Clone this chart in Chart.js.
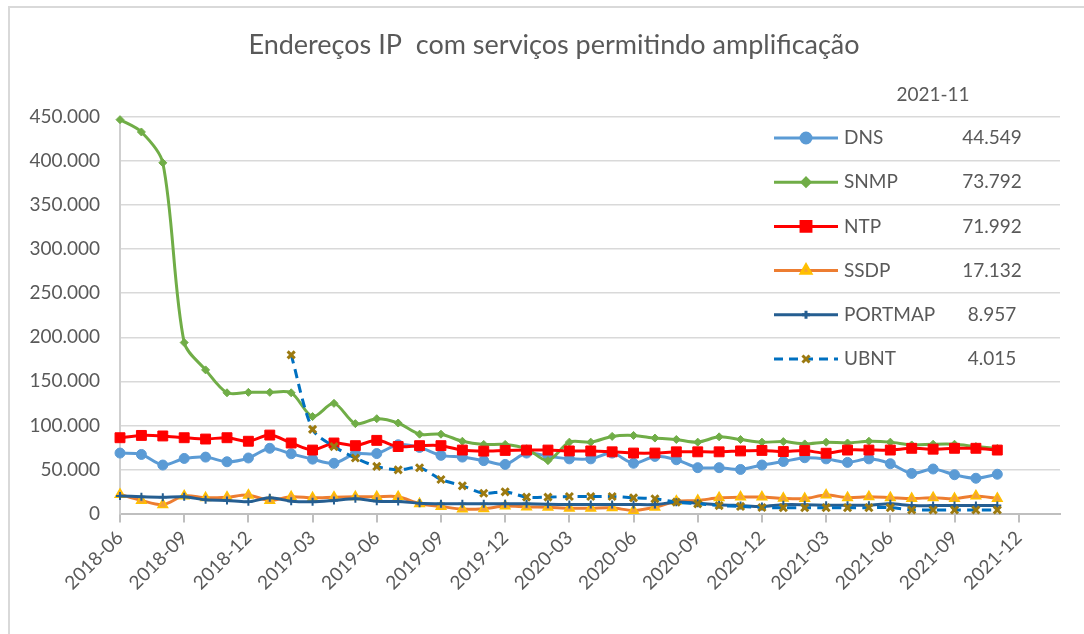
<!DOCTYPE html>
<html>
<head>
<meta charset="utf-8">
<script src="https://cdn.jsdelivr.net/npm/chart.js"></script>
<style>
  html, body { margin: 0; padding: 0; background: #fff; overflow: hidden; }
  #wrap { position: relative; width: 1084px; height: 634px; }
  #frame { position: absolute; left: 8px; top: 6px; width: 1200px; height: 800px;
           border-left: 2px solid #d9d9d9; border-top: 2px solid #d9d9d9; }
  canvas { position: absolute; left: 0; top: 0; }
</style>
</head>
<body>
<div id="wrap">
  <div id="frame"></div>
  <canvas id="chart" width="1084" height="634"></canvas>
</div>
<script>
// meses 2018-06 .. 2021-11
const months = ['2018-06','2018-07','2018-08','2018-09','2018-10','2018-11','2018-12',
  '2019-01','2019-02','2019-03','2019-04','2019-05','2019-06','2019-07','2019-08','2019-09','2019-10','2019-11','2019-12',
  '2020-01','2020-02','2020-03','2020-04','2020-05','2020-06','2020-07','2020-08','2020-09','2020-10','2020-11','2020-12',
  '2021-01','2021-02','2021-03','2021-04','2021-05','2021-06','2021-07','2021-08','2021-09','2021-10','2021-11'];
const tickLabels = ['2018-06','2018-09','2018-12','2019-03','2019-06','2019-09','2019-12',
  '2020-03','2020-06','2020-09','2020-12','2021-03','2021-06','2021-09','2021-12'];
const titleText = 'Endereços IP  com serviços permitindo amplificação';

const dns = [68600, 67000, 55000, 62500, 64000, 58700, 63000, 74000, 67800, 61700, 57000, 67800, 68000, 78000,
  75000, 66000, 64000, 60000, 55700, 68600, 65000, 62000, 62000, 68600, 57000, 64800, 61000, 52000, 52000, 50000,
  55000, 59000, 63300, 62000, 58000, 62000, 56500, 45500, 50500, 44000, 40000, 44549];
const snmp = [447000, 433000, 398000, 194000, 163000, 137000, 137500, 137500, 137000, 110000, 125000, 102000, 107600,
  102700, 90000, 90000, 82000, 78400, 78400, 73500, 60000, 81000, 81000, 87500, 88600, 85600, 84000, 81000, 87000,
  84000, 81000, 81600, 79000, 80900, 80000, 82000, 81000, 77800, 78600, 78600, 76000, 73792];
const ntp = [86000, 88600, 88000, 86000, 84500, 86000, 82000, 89000, 80000, 72000, 80000, 77000, 83000, 76000, 77000,
  77000, 72000, 70800, 71600, 72000, 72000, 71000, 71000, 70000, 68600, 68600, 70000, 70000, 70000, 71000, 71600,
  70300, 71400, 68400, 72000, 72000, 72000, 74000, 73000, 74000, 74000, 71992];
const ssdp = [21600, 14800, 10000, 20000, 17800, 18500, 20800, 14800, 19000, 17800, 18500, 19000, 19000, 19000, 11000,
  8000, 5000, 5500, 8500, 7500, 7000, 6000, 6000, 6400, 3400, 7000, 14000, 14800, 17800, 18600, 18600, 17200, 17000,
  20900, 18000, 19000, 18000, 16900, 18000, 16900, 20000, 17132];
const portmap = [20000, 19000, 18500, 19000, 15500, 14800, 13300, 17800, 14000, 13300, 14800, 16700, 14000, 13600,
  11700, 11000, 11000, 11000, 11000, 11000, 10500, 10200, 10200, 10200, 10200, 10200, 12900, 11700, 10000, 9000, 8000,
  10000, 10000, 9500, 9500, 9500, 11000, 9000, 9000, 9000, 9000, 8957];
const ubnt = [null, null, null, null, null, null, null, null, 180000, 95500, 76000, 63000, 53400, 49600, 51900, 38600,
  31400, 23000, 24600, 18600, 18600, 19300, 19300, 19300, 17800, 16700, 12900, 11000, 9000, 8000, 6800, 6600, 6600,
  6600, 6600, 6600, 6600, 4000, 4000, 4000, 4000, 4015];

const FONT = 'Lato, "Open Sans", sans-serif';
const GREY = '#595959';

function fmt(v) {
  return Math.round(v).toString().replace(/\B(?=(\d{3})+(?!\d))/g, '.');
}
function pts(arr) {
  return arr.map((v, i) => ({ x: i, y: v }));
}

const base = { tension: 0.3, borderWidth: 3, clip: false, spanGaps: false };

const datasets = [
  Object.assign({}, base, { label: 'DNS', data: pts(dns), borderColor: '#5B9BD5', backgroundColor: '#5B9BD5',
    pointStyle: 'circle', pointRadius: 5, pointBorderWidth: 1, order: 6 }),
  Object.assign({}, base, { label: 'SNMP', data: pts(snmp), borderColor: '#70AD47', backgroundColor: '#70AD47',
    pointStyle: 'rectRot', pointRadius: 4, pointBorderWidth: 1, order: 5 }),
  Object.assign({}, base, { label: 'NTP', data: pts(ntp), borderColor: '#FF0000', backgroundColor: '#FF0000',
    pointStyle: 'rect', pointRadius: 7, pointBorderWidth: 1, order: 4 }),
  Object.assign({}, base, { label: 'SSDP', data: pts(ssdp), borderColor: '#ED7D31', backgroundColor: '#F3A13A',
    pointBorderColor: '#FFC000', pointStyle: 'triangle', pointRadius: 5.5, pointBorderWidth: 1.5, order: 3 }),
  Object.assign({}, base, { label: 'PORTMAP', data: pts(portmap), borderColor: '#255E91', backgroundColor: '#255E91',
    pointStyle: 'cross', pointRadius: 4, pointBorderWidth: 2, order: 2 }),
  Object.assign({}, base, { label: 'UBNT', data: pts(ubnt), borderColor: '#0070C0', backgroundColor: '#9C7A10',
    pointBorderColor: '#9C7A10', borderDash: [9, 6], pointStyle: 'crossRot', pointRadius: 5, pointBorderWidth: 3, order: 1 })
];

// título + legenda em forma de tabela com o último valor
const tableLegend = {
  id: 'tableLegend',
  afterDraw(chart) {
    const ctx = chart.ctx;
    const last = months.length - 1;
    ctx.save();
    ctx.fillStyle = GREY;
    ctx.textBaseline = 'middle';
    ctx.textAlign = 'center';
    ctx.font = '27px ' + FONT;
    ctx.fillText(titleText, 554, 45);
    ctx.font = '19px ' + FONT;
    ctx.fillText(months[last], 933, 95);
    chart.data.datasets.forEach((ds, k) => {
      const y = 138 + k * 44.2;
      ctx.save();
      ctx.strokeStyle = ds.borderColor;
      ctx.lineWidth = ds.borderWidth;
      ctx.setLineDash(ds.borderDash || []);
      ctx.beginPath();
      ctx.moveTo(774, y);
      ctx.lineTo(838, y);
      ctx.stroke();
      ctx.setLineDash([]);
      ctx.fillStyle = ds.backgroundColor;
      ctx.strokeStyle = ds.pointBorderColor || ds.borderColor;
      Chart.helpers.drawPoint(ctx, { pointStyle: ds.pointStyle, radius: ds.pointRadius,
        borderWidth: ds.pointBorderWidth, rotation: 0 }, 806, y);
      ctx.restore();
      ctx.fillStyle = GREY;
      ctx.textAlign = 'left';
      ctx.fillText(ds.label, 844, y);
      ctx.textAlign = 'center';
      ctx.fillText(fmt(ds.data[last].y), 992, y);
    });
    ctx.restore();
  }
};

new Chart(document.getElementById('chart'), {
  type: 'line',
  data: { datasets: datasets },
  plugins: [tableLegend],
  options: {
    responsive: false,
    animation: false,
    layout: { padding: { left: 24, right: 24, top: 117, bottom: 0 } },
    plugins: {
      legend: { display: false },
      tooltip: { enabled: false },
      title: { display: false }
    },
    scales: {
      x: {
        type: 'linear',
        min: 0,
        max: 43.93,
        afterFit: (s) => { s.height = 120.5; },
        grid: { drawOnChartArea: false, drawTicks: true, tickLength: 9, color: '#bfbfbf', lineWidth: 2 },
        border: { color: '#bfbfbf', width: 2 },
        ticks: {
          stepSize: 3,
          includeBounds: false,
          autoSkip: false,
          minRotation: 45,
          maxRotation: 45,
          padding: 4,
          color: GREY,
          font: { family: FONT, size: 19 },
          callback: (v) => tickLabels[v / 3]
        }
      },
      y: {
        min: 0,
        max: 450000,
        afterFit: (s) => { s.width = 96; },
        grid: { color: '#d9d9d9', lineWidth: 1.5, drawTicks: false },
        border: { color: '#cfcfcf', width: 2 },
        ticks: {
          stepSize: 50000,
          padding: 20,
          color: GREY,
          font: { family: FONT, size: 19 },
          callback: (v) => fmt(v)
        }
      }
    }
  }
});
</script>
</body>
</html>
